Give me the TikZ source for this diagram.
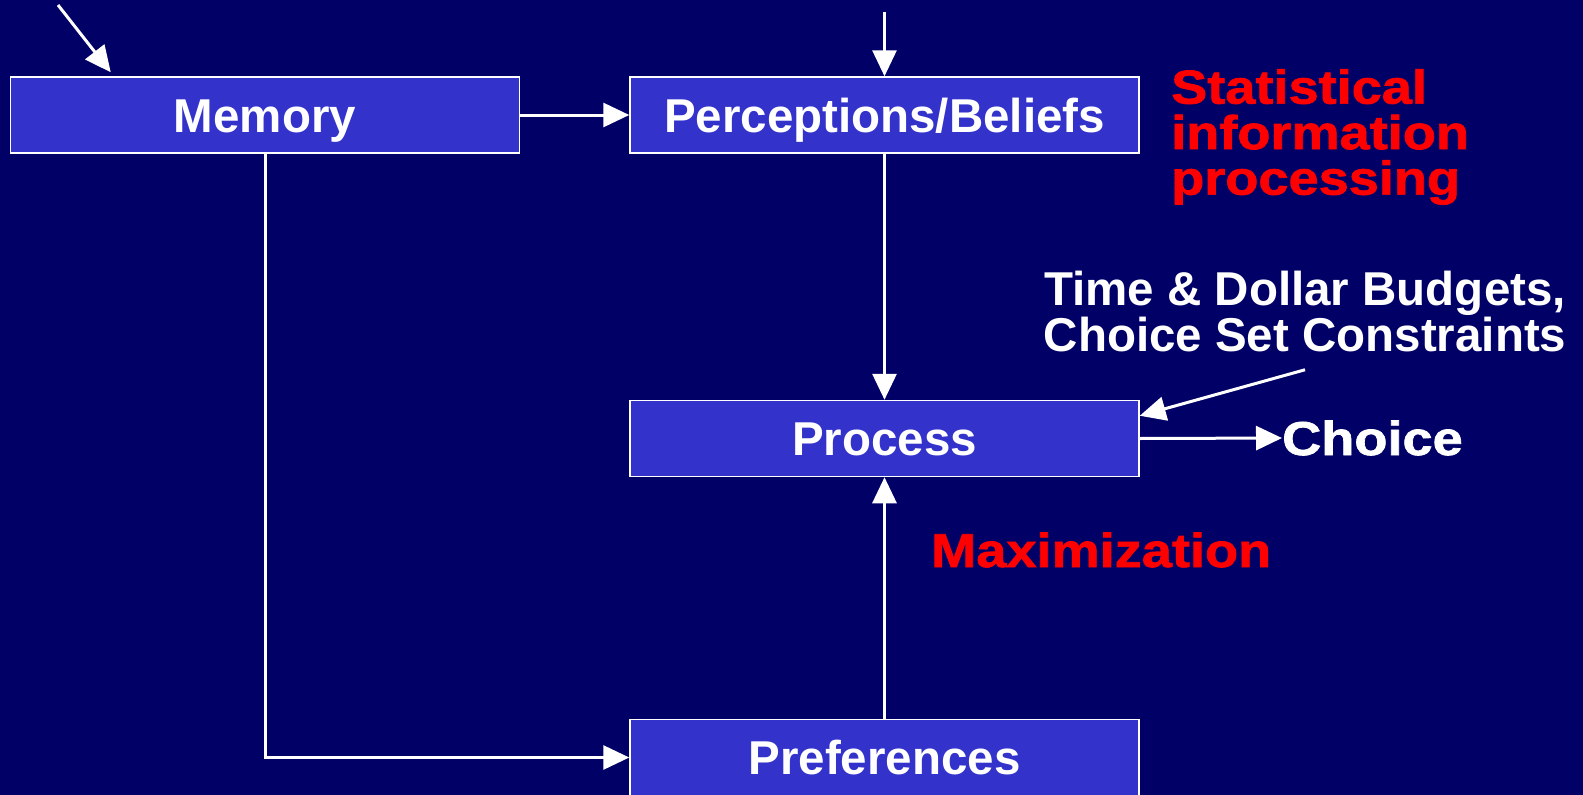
\documentclass[tikz,border=0pt]{standalone}
\usepackage{fontspec}
\setmainfont{Liberation Sans}
\newfontfamily\heavyfont{Liberation Sans}[FakeStretch=1.14, BoldFeatures={FakeBold=1.5}]
\usetikzlibrary{positioning,arrows.meta,calc}

\definecolor{slidebg}{RGB}{0,0,102}
\definecolor{boxblue}{RGB}{51,51,204}
\definecolor{hotred}{RGB}{255,0,0}

\begin{document}
\begin{tikzpicture}[
    x=1pt, y=-1pt,
    % Box and text styles
    block/.style={draw=white, line width=1.5pt, fill=boxblue, text=white,
        minimum width=509pt, minimum height=76pt, inner sep=0pt,
        text height=34pt, text depth=0pt,
        font=\bfseries\fontsize{47.5}{44}\selectfont},
    note/.style={text=white, inner sep=0pt, align=center,
        font=\bfseries\fontsize{47.5}{43.5}\selectfont},
    rednote/.style={text=hotred, inner sep=0pt, align=left,
        font=\heavyfont\bfseries\fontsize{47.5}{45.5}\selectfont},
    arrow/.style={-{Triangle[width=24pt,length=26pt]}, line width=3pt, draw=white},
]

    % Background
    \fill[slidebg] (0,0) rectangle (1583,795);
    \useasboundingbox (0,0) rectangle (1583,795);

    % Boxes
    \node[block] (memory)  at (265,115)   {Memory};
    \node[block] (percept) at (884.5,115) {Perceptions/Beliefs};
    \node[block] (process) at (884.5,438.5) {Process};
    \node[block] (pref)    at (884.5,757.5) {Preferences};

    % Free ends
    \coordinate (memin)  at (58,5);
    \coordinate (percin) at (884.5,12);

    % Labels
    \node[rednote, anchor=north west] (stat) at (1171,69)
        {Statistical\\information\\processing};
    \node[note, anchor=north] (constr) at (1305,271)
        {Time \& Dollar Budgets,\\Choice Set Constraints};
    \node[text=white, inner sep=0pt, anchor=base west,
        font=\heavyfont\bfseries\fontsize{47.5}{50}\selectfont] (choice) at (1282,455) {Choice};
    \node[text=hotred, inner sep=0pt, anchor=base west,
        font=\heavyfont\bfseries\fontsize{47.5}{50}\selectfont] (maxim) at (931,567) {Maximization};

    % Connections
    \draw[arrow] (memin) -- ([xshift=101pt, yshift=4pt]memory.north west);
    \draw[arrow] (percin) -- (percept.north);
    \draw[arrow] (memory.east) -- (percept.west);
    \draw[arrow] (percept.south) -- (process.north);
    \draw[arrow] (memory.south) |- (pref.west);
    \draw[arrow] (pref.north) -- (process.south);
    \draw[arrow] (process.east) -- (choice.west);
    \draw[arrow] ([xshift=0pt, yshift=-18pt]constr.south) -- ([yshift=-16pt]process.north east);

\end{tikzpicture}
\end{document}
